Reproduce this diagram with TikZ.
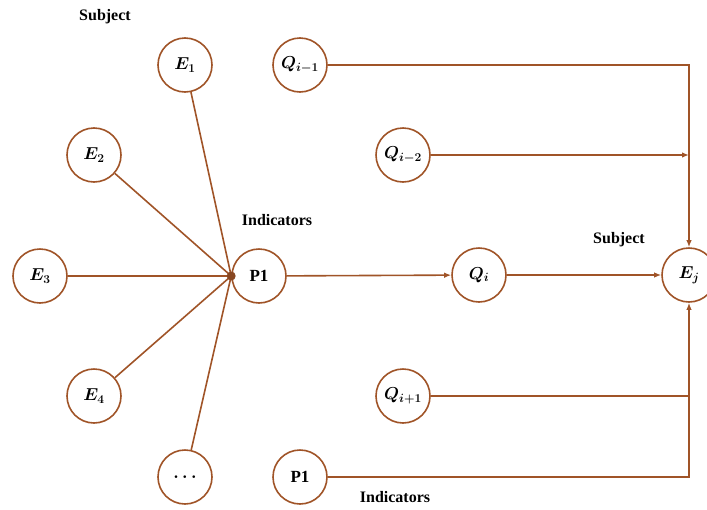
\documentclass[tikz,border=0pt]{standalone}
\usepackage{fontspec}
\usepackage{amsmath}
\setmainfont{Liberation Serif}
\DeclareMathSizes{17}{17}{13}{10}
\usetikzlibrary{arrows.meta}
\definecolor{brn}{RGB}{160,84,40}
\begin{document}
\begin{tikzpicture}[x=1pt,y=-1pt,
  circ/.style={circle,draw=brn,line width=1.6pt,minimum size=54pt,inner sep=0pt,font=\fontsize{17}{19}\selectfont\bfseries\boldmath},
  lbl/.style={font=\fontsize{16}{18}\selectfont\bfseries},
  conn/.style={draw=brn,line width=1.6pt},
  arr/.style={conn,-{Latex[length=7pt,width=5.5pt]}}]
\useasboundingbox (0,0) rectangle (707,509);
\node[circ] (e1) at (185,65) {$E_1$};
\node[circ] (e2) at (94,155) {$E_2$};
\node[circ] (e3) at (40,276) {$E_3$};
\node[circ] (e4) at (94,396) {$E_4$};
\node[circ] (ed) at (185,477) {$\boldsymbol{\ldots}$};
\node[circ] (p1) at (259,276) {P1};
\node[circ] (qm1) at (300,65) {$Q_{i-1}$};
\node[circ] (qm2) at (403,155) {$Q_{i-2}$};
\node[circ] (qi) at (479,275) {$Q_i$};
\node[circ] (ej) at (689,275) {$E_j$};
\node[circ] (qp1) at (403,396) {$Q_{i+1}$};
\node[circ] (p1b) at (300,477) {P1};
\node[lbl] (s1) at (105,17) {Subject};
\node[lbl] (i1) at (277,220) {Indicators};
\node[lbl] (s2) at (619,240) {Subject};
\node[lbl] (i2) at (395,497) {Indicators};
\coordinate (hub) at (p1.west);
\coordinate (jt) at (ej.north |- qm1.east);
\coordinate (jm) at (ej.north |- qm2.east);
\coordinate (jp) at (ej.south |- qp1.east);
\coordinate (jb) at (ej.south |- p1b.east);
\draw[conn] (e1) -- (hub);
\draw[conn] (e2) -- (hub);
\draw[conn] (e3) -- (hub);
\draw[conn] (e4) -- (hub);
\draw[conn] (ed) -- (hub);
\fill[brn!85!black] (hub) circle (4.5pt);
\draw[arr] (p1) -- (qi);
\draw[arr] (qi) -- (ej);
\draw[arr] (qm1.east) -- (jt) -- (ej.north);
\draw[arr] (qm2.east) -- (jm);
\draw[conn] (qp1.east) -- (jp);
\draw[arr] (p1b.east) -- (jb) -- (ej.south);
\end{tikzpicture}
\end{document}
